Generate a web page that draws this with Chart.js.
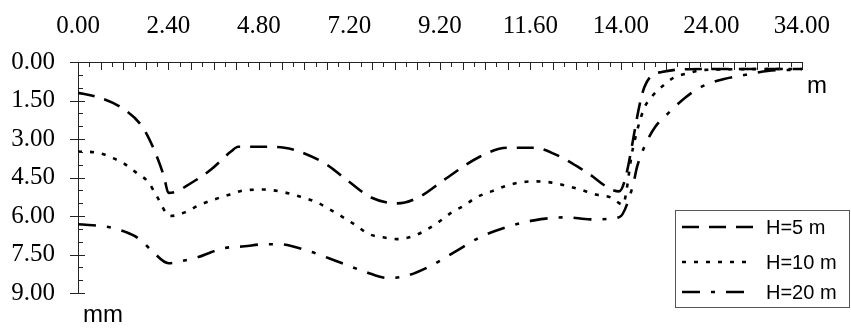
<!DOCTYPE html>
<html>
<head>
<meta charset="utf-8">
<script src="https://cdn.jsdelivr.net/npm/chart.js@4/dist/chart.umd.min.js"></script>
<style>
  html, body { margin: 0; padding: 0; background: #fff; }
  #wrap { width: 851px; height: 331px; }
</style>
</head>
<body>
<div id="wrap"><canvas id="settleChart" width="851" height="331"></canvas></div>
<script>
// Etiquetas del eje superior (distancia) y del eje izquierdo (asiento)
const xLabels = ['0.00', '2.40', '4.80', '7.20', '9.20', '11.60', '14.00', '24.00', '34.00'];
const yTickValues = [0, 1.5, 3, 4.5, 6, 7.5, 9];
const seriesNames = ['H=5 m', 'H=10 m', 'H=20 m'];

// Posición sobre el eje (en divisiones de etiqueta) y asiento en mm
const h5Pos = [0, 0.21, 0.48, 0.71, 0.84, 0.95, 1.00, 1.09, 1.19, 1.47, 1.69, 1.77, 2.00, 2.28, 2.45, 2.75, 2.99, 3.24, 3.53, 3.76, 4.05, 4.44, 4.74, 5.04, 5.33, 5.61, 5.98, 6.26, 6.45, 6.91, 8.00];
const h5Depth = [1.20, 1.36, 1.78, 2.52, 3.41, 4.46, 5.10, 5.04, 4.85, 4.19, 3.49, 3.30, 3.30, 3.34, 3.49, 4.00, 4.65, 5.28, 5.51, 5.28, 4.58, 3.69, 3.34, 3.34, 3.69, 4.27, 5.04, 0.97, 0.39, 0.27, 0.27];

const h10Pos = [0, 0.21, 0.37, 0.51, 0.64, 0.78, 0.86, 1.02, 1.18, 1.33, 1.51, 1.68, 1.84, 2.06, 2.28, 2.45, 2.64, 2.78, 2.93, 3.07, 3.22, 3.37, 3.53, 3.70, 3.86, 3.98, 4.13, 4.27, 4.40, 4.57, 4.71, 4.89, 5.06, 5.22, 5.38, 5.55, 5.72, 5.89, 6.02, 6.13, 6.25, 6.34, 6.45, 6.58, 6.75, 6.91, 8.00];
const h10Depth = [3.49, 3.53, 3.72, 3.96, 4.30, 4.69, 5.16, 6.00, 5.86, 5.59, 5.35, 5.16, 5.00, 4.97, 5.08, 5.24, 5.47, 5.74, 6.05, 6.36, 6.71, 6.83, 6.90, 6.79, 6.52, 6.25, 5.86, 5.59, 5.28, 5.04, 4.85, 4.69, 4.65, 4.69, 4.81, 4.97, 5.16, 5.28, 5.55, 3.41, 1.86, 1.36, 0.97, 0.62, 0.43, 0.31, 0.27];

const h20Pos = [0, 0.35, 0.53, 0.68, 0.82, 1.00, 1.14, 1.33, 1.47, 1.62, 1.84, 2.06, 2.23, 2.55, 2.86, 3.18, 3.43, 3.62, 3.87, 4.16, 4.44, 4.73, 5.04, 5.40, 5.66, 5.98, 6.13, 6.18, 6.27, 6.38, 6.54, 6.72, 6.91, 7.14, 7.38, 7.62, 7.87, 8.00];
const h20Depth = [6.32, 6.44, 6.63, 6.90, 7.37, 7.84, 7.76, 7.60, 7.41, 7.25, 7.18, 7.10, 7.10, 7.37, 7.76, 8.18, 8.42, 8.34, 7.99, 7.41, 6.83, 6.44, 6.17, 6.05, 6.13, 6.05, 4.85, 4.07, 3.22, 2.52, 1.94, 1.36, 0.93, 0.66, 0.50, 0.35, 0.31, 0.31];

function toPoints(pos, depth) {
    return pos.map((p, i) => ({ x: p, y: depth[i] }));
}

const serif = '"Liberation Serif", "Times New Roman", serif';
const sans = '"Liberation Sans", Arial, sans-serif';

// Marcas menores de los ejes, unidades y leyenda en recuadro
const axisDecor = {
    id: 'axisDecor',
    afterDraw(chart) {
        const { ctx, chartArea: a, scales: { x, y } } = chart;
        ctx.save();
        ctx.strokeStyle = '#222';
        ctx.lineWidth = 1;
        ctx.beginPath();
        for (let i = 0; i <= 64; i++) {
            const px = Math.round(x.getPixelForValue(i / 8)) + 0.5;
            const len = i % 2 === 0 ? 8 : 5;
            ctx.moveTo(px, a.top);
            ctx.lineTo(px, a.top + len);
        }
        for (let i = 0; i <= 18; i++) {
            const py = Math.round(y.getPixelForValue(i * 0.5)) + 0.5;
            if (i % 3 === 0) {
                ctx.moveTo(a.left - 8, py);
                ctx.lineTo(a.left + 7, py);
            } else {
                ctx.moveTo(a.left, py);
                ctx.lineTo(a.left + 5, py);
            }
        }
        ctx.stroke();

        ctx.fillStyle = '#000';
        ctx.font = '24px ' + sans;
        ctx.textAlign = 'left';
        ctx.textBaseline = 'middle';
        ctx.fillText('m', a.right + 5, a.top + 24);
        ctx.fillText('mm', a.left + 5, a.bottom + 22);

        // leyenda
        const lx = 675.5, ly = 210.5, lw = 174, lh = 97;
        ctx.fillStyle = '#fff';
        ctx.fillRect(lx, ly, lw, lh);
        ctx.strokeStyle = '#555';
        ctx.lineWidth = 1;
        ctx.setLineDash([]);
        ctx.strokeRect(lx, ly, lw, lh);
        const rows = [227, 262, 292];
        chart.data.datasets.forEach((ds, i) => {
            ctx.strokeStyle = ds.borderColor;
            ctx.lineWidth = ds.borderWidth;
            ctx.setLineDash(ds.borderDash);
            ctx.beginPath();
            ctx.moveTo(682, rows[i]);
            ctx.lineTo(754, rows[i]);
            ctx.stroke();
            ctx.setLineDash([]);
            ctx.fillStyle = '#000';
            ctx.font = '20px ' + sans;
            ctx.fillText(ds.label, 766, rows[i] + 1);
        });
        ctx.restore();
    }
};

const lineStyle = {
    borderColor: '#000',
    borderWidth: 2.6,
    pointRadius: 0,
    fill: false,
    cubicInterpolationMode: 'monotone'
};

const ctx = document.getElementById('settleChart').getContext('2d');
const chart = new Chart(ctx, {
    type: 'line',
    data: {
        datasets: [
            Object.assign({ label: seriesNames[0], data: toPoints(h5Pos, h5Depth), borderDash: [17, 10] }, lineStyle),
            Object.assign({ label: seriesNames[1], data: toPoints(h10Pos, h10Depth), borderDash: [4, 8] }, lineStyle),
            Object.assign({ label: seriesNames[2], data: toPoints(h20Pos, h20Depth), borderDash: [18, 11, 4, 11] }, lineStyle)
        ]
    },
    options: {
        responsive: false,
        animation: false,
        layout: {
            padding: { left: 0, right: 39, top: 0, bottom: 37 }
        },
        scales: {
            x: {
                type: 'linear',
                position: 'top',
                min: 0,
                max: xLabels.length - 1,
                afterBuildTicks: function (scale) {
                    scale.ticks = xLabels.map((_, i) => ({ value: i }));
                },
                afterFit: function (scale) {
                    scale.height = 62;
                },
                grid: { display: false, drawTicks: false },
                border: { display: true, color: '#222', width: 1 },
                ticks: {
                    autoSkip: false,
                    maxRotation: 0,
                    padding: 21,
                    color: '#000',
                    font: { family: serif, size: 25 },
                    callback: function (value) {
                        return xLabels[value];
                    }
                }
            },
            y: {
                type: 'linear',
                reverse: true,
                min: 0,
                max: 9,
                afterBuildTicks: function (scale) {
                    scale.ticks = yTickValues.map(v => ({ value: v }));
                },
                afterFit: function (scale) {
                    scale.width = 78;
                },
                grid: { display: false, drawTicks: false },
                border: { display: true, color: '#222', width: 1 },
                ticks: {
                    padding: 23,
                    color: '#000',
                    font: { family: serif, size: 25 },
                    callback: function (value) {
                        return value.toFixed(2);
                    }
                }
            }
        },
        plugins: {
            legend: { display: false },
            tooltip: { enabled: false }
        }
    },
    plugins: [axisDecor]
});
</script>
</body>
</html>
